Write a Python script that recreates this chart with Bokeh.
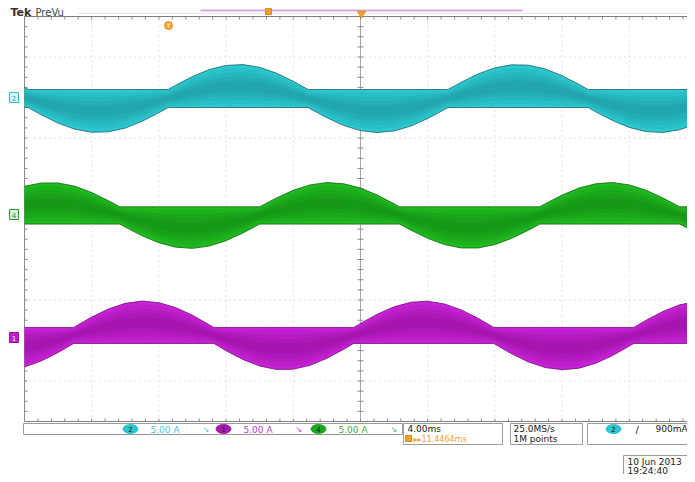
from bokeh.plotting import figure
from bokeh.models import Range1d
from bokeh.embed import file_html
from bokeh.resources import INLINE
from bokeh.core.properties import value

# ---------------- data ----------------
# time axis, ms (4.00 ms/div, 10 divisions, centre = 0)
time_ms = list(range(-20, 21))

# low-frequency (60 Hz) current envelope of each channel, A (5.00 A/div)
ch2_current_A = [0.20, -0.72, -1.54, -2.14, -2.44, -2.40, -2.03, -1.36, -0.51, 0.42,
                 1.28, 1.97, 2.38, 2.46, 2.19, 1.61, 0.81, -0.11, -1.01, -1.77,
                 -2.28, -2.47, -2.31, -1.83, -1.09, -0.20, 0.72, 1.54, 2.14, 2.44,
                 2.40, 2.03, 1.36, 0.51, -0.42, -1.28, -1.97, -2.38, -2.46, -2.19, -1.61]
ch4_current_A = [2.03, 2.36, 2.36, 2.03, 1.41, 0.60, -0.30, -1.16, -1.85, -2.28,
                 -2.40, -2.17, -1.64, -0.88, 0.00, 0.88, 1.64, 2.17, 2.40, 2.28,
                 1.85, 1.16, 0.30, -0.60, -1.41, -2.03, -2.36, -2.36, -2.03, -1.41,
                 -0.60, 0.30, 1.16, 1.85, 2.28, 2.40, 2.17, 1.64, 0.88, 0.00, -0.88]
ch1_current_A = [-2.32, -1.73, -0.90, 0.07, 1.02, 1.83, 2.38, 2.60, 2.45, 1.96,
                 1.20, 0.26, -0.71, -1.58, -2.23, -2.57, -2.54, -2.16, -1.47, -0.58,
                 0.39, 1.31, 2.04, 2.49, 2.59, 2.32, 1.73, 0.90, -0.07, -1.02,
                 -1.83, -2.38, -2.60, -2.45, -1.96, -1.20, -0.26, 0.71, 1.58, 2.23, 2.57]

# zero crossings of each channel's envelope, ms (sharp kinks in the bands)
ch2_zero_ms = [-19.78, -11.45, -3.12, 5.21, 13.55]
ch4_zero_ms = [-14.33, -6.0, 2.33, 10.67, 19.0]
ch1_zero_ms = [-17.07, -8.73, -0.4, 7.93, 16.27]

# switching ripple half-width of each band, A
ripple_A = [0.89, 0.85, 0.79]
# channel offsets on screen, A
offset_A = [11.9, 0.35, -11.5]
channel_names = ["2", "4", "1"]
amps_per_div = ["5.00 A", "5.00 A", "5.00 A"]

# graticule
div_ms = [-16, -12, -8, -4, 4, 8, 12, 16]
row_A = [16, 8, 0, -8, -16]

# ---------------- geometry helpers (pixel -> data) ----------------
X0, PXMS, Y0, PXA = 24.0, 16.8, 16.0, 10.125
W, H = 687, 474


def dx(X):
    return (X - X0) / PXMS - 20.0


def dy(Y):
    return 20.0 - (Y - Y0) / PXA


p = figure(width=W, height=H, output_backend="svg", toolbar_location=None,
           x_range=Range1d(dx(0), dx(W)), y_range=Range1d(dy(H), dy(0)),
           min_border=0, min_border_left=0, min_border_right=0,
           min_border_top=0, min_border_bottom=0)
p.axis.visible = False
p.grid.visible = False
p.outline_line_color = None
p.background_fill_color = "white"
p.border_fill_color = "white"

FONT = value("DejaVu Sans")

# dotted graticule
p.segment(x0=div_ms, y0=[-20] * len(div_ms), x1=div_ms, y1=[20] * len(div_ms),
          line_color="#bcbcbc", line_width=1, line_dash="1 4", line_alpha=0.8)
p.segment(x0=[-20] * len(row_A), y0=row_A, x1=[20] * len(row_A), y1=row_A,
          line_color="#bcbcbc", line_width=1, line_dash="1 4", line_alpha=0.8)
# centre vertical line
p.segment(x0=[0], y0=[-20], x1=[0], y1=[20], line_color="#a8a8a8", line_width=1)

# tick marks
tx = [-20 + 0.8 * i for i in range(51)]
ty = [-20 + 1.0 * i for i in range(41)]
tl_y = 3 / PXA
tl_x = 3 / PXMS
p.segment(x0=tx, y0=[20] * len(tx), x1=tx, y1=[20 - tl_y] * len(tx), line_color="#8a8a8a")
p.segment(x0=tx, y0=[-20] * len(tx), x1=tx, y1=[-20 + tl_y] * len(tx), line_color="#8a8a8a")
p.segment(x0=[-20] * len(ty), y0=ty, x1=[-20 + tl_x] * len(ty), y1=ty, line_color="#8a8a8a")
p.segment(x0=[-tl_x] * len(ty), y0=ty, x1=[tl_x] * len(ty), y1=ty, line_color="#8a8a8a")

# borders
p.line([-20, 20.5], [20, 20], line_color="#7d7d7d", line_width=1.2)
p.line([-20, 20.5], [-20, -20], line_color="#7d7d7d", line_width=1.2)
p.line([-20, -20], [-20, 20], line_color="#8a8a8a", line_width=1)

# ---------------- waveforms ----------------
styles = [
    ("#2cc9d1", "#0f6f78", "#1e6970"),   # ch2 cyan
    ("#20bb20", "#066806", "#156a15"),   # ch4 green
    ("#c823d6", "#6e0078", "#74127f"),   # ch1 purple
]
for cur, zeros, rip, off, (fill, dark, edge) in zip(
        [ch2_current_A, ch4_current_A, ch1_current_A],
        [ch2_zero_ms, ch4_zero_ms, ch1_zero_ms],
        ripple_A, offset_A, styles):
    pts = sorted(list(zip(time_ms, cur)) + [(z, 0.0) for z in zeros])
    t = [a for a, _ in pts]
    v = [b for _, b in pts]
    upper = [off + rip + max(0.0, b) for b in v]
    lower = [off - rip + min(0.0, b) for b in v]
    mid = [(u + l) / 2 for u, l in zip(upper, lower)]
    half = [(u - l) / 2 for u, l in zip(upper, lower)]
    p.varea(x=t, y1=lower, y2=upper, fill_color=fill)
    for frac in (0.85, 0.65, 0.45, 0.25):
        p.varea(x=t, y1=[m - h * frac for m, h in zip(mid, half)],
                y2=[m + h * frac for m, h in zip(mid, half)],
                fill_color=dark, fill_alpha=0.11)
    p.line(t, upper, line_color=edge, line_width=1, line_alpha=0.85)
    p.line(t, lower, line_color=edge, line_width=1, line_alpha=0.85)

# channel markers on the left
mk_fill = ["#d6f6f8", "#d4f2d4", "#c020c8"]
mk_line = ["#38bcc4", "#2c9c2c", "#a010a8"]
mk_text = ["#2aa8b0", "#2a902a", "white"]
mk_Y = [97, 214, 337]
for nm, f, l, tc, Y in zip(channel_names, mk_fill, mk_line, mk_text, mk_Y):
    p.quad(left=[dx(9)], right=[dx(18)], bottom=[dy(Y + 5)], top=[dy(Y - 5)],
           fill_color=f, line_color=l, line_width=1)
    p.text(x=[dx(13.5)], y=[dy(Y)], text=[nm], text_font=FONT, text_font_size="7px",
           text_color=tc, text_align="center", text_baseline="middle")

# ---------------- header ----------------
p.text(x=[dx(10)], y=[dy(12)], text=["Tek"], text_font=FONT, text_font_size="11px",
       text_font_style="bold", text_color="#303030", text_baseline="middle")
p.text(x=[dx(35)], y=[dy(12)], text=["PreVu"], text_font=FONT, text_font_size="10px",
       text_color="#3c4660", text_baseline="middle")
p.line([dx(78), dx(W)], [dy(13), dy(13)], line_color="#e4e4e4", line_width=1)
p.line([dx(200), dx(522)], [dy(10), dy(10)], line_color="#d7a8d7", line_width=2)
p.scatter(x=[dx(268)], y=[dy(11)], marker="square", size=6, fill_color="#f0a030",
          line_color="#e08a10")
p.scatter(x=[dx(361)], y=[dy(13)], marker="inverted_triangle", size=8, fill_color="#f0a030",
          line_color="#e08a10")
p.scatter(x=[dx(168)], y=[dy(25)], marker="circle", size=8, fill_color="#f3a535",
          line_color="#e89020")
p.text(x=[dx(168)], y=[dy(25)], text=["T"], text_font=FONT, text_font_size="6px",
       text_color="white", text_align="center", text_baseline="middle")

# ---------------- status bar ----------------
box_l = [23, 403, 510, 587, 623]
box_r = [402, 502, 582, 700, 700]
box_t = [423, 423, 423, 423, 455]
box_b = [434, 444, 444, 444, 480]
p.quad(left=[dx(v) for v in box_l], right=[dx(v) for v in box_r],
       top=[dy(v) for v in box_t], bottom=[dy(v) for v in box_b],
       fill_color="white", line_color="#9a9a9a", line_width=1)

ch_col = ["#2ec4cc", "#a51aae", "#1ea51e"]
ch_txt = ["#45c8d0", "#b040c0", "#40b040"]
order = ["2", "1", "4"]
badge_X = [130, 223, 318]
for nm, c, tc, X, vd in zip(order, ch_col, ch_txt, badge_X, amps_per_div):
    p.ellipse(x=[dx(X)], y=[dy(428.5)], width=15 / PXMS, height=9 / PXA,
              fill_color=c, line_color=c)
    p.text(x=[dx(X)], y=[dy(428.5)], text=[nm], text_font=FONT, text_font_size="7px",
           text_color="#202020", text_align="center", text_baseline="middle")
    p.text(x=[dx(X + 20)], y=[dy(429)], text=[vd], text_font=FONT, text_font_size="9px",
           text_color=tc, text_baseline="middle")
    p.text(x=[dx(X + 72)], y=[dy(429)], text=["\u2198"], text_font=FONT, text_font_size="8px",
           text_color=tc, text_baseline="middle")

p.text(x=[dx(407)], y=[dy(428)], text=["4.00ms"], text_font=FONT, text_font_size="9px",
       text_color="#202020", text_baseline="middle")
p.quad(left=[dx(405)], right=[dx(411)], top=[dy(435)], bottom=[dy(441)],
       fill_color="#f0a030", line_color="#e08a10")
p.text(x=[dx(413)], y=[dy(438.5)], text=["\u25b8\u25b811.4464ms"], text_font=FONT,
       text_font_size="8px", text_color="#f0a030", text_baseline="middle")

p.text(x=[dx(513)], y=[dy(428)], text=["25.0MS/s"], text_font=FONT, text_font_size="9px",
       text_color="#202020", text_baseline="middle")
p.text(x=[dx(513)], y=[dy(438.5)], text=["1M points"], text_font=FONT, text_font_size="9px",
       text_color="#202020", text_baseline="middle")

p.ellipse(x=[dx(613)], y=[dy(428.5)], width=15 / PXMS, height=9 / PXA,
          fill_color="#2ec4cc", line_color="#2ec4cc")
p.text(x=[dx(613)], y=[dy(428.5)], text=["2"], text_font=FONT, text_font_size="7px",
       text_color="#202020", text_align="center", text_baseline="middle")
p.text(x=[dx(635)], y=[dy(428.5)], text=["\u2215"], text_font=FONT, text_font_size="10px",
       text_color="#202020", text_baseline="middle")
p.text(x=[dx(655)], y=[dy(428.5)], text=["900mA"], text_font=FONT, text_font_size="9px",
       text_color="#202020", text_baseline="middle")

p.text(x=[dx(627)], y=[dy(461)], text=["10 Jun  2013"], text_font=FONT, text_font_size="9px",
       text_color="#202020", text_baseline="middle")
p.text(x=[dx(627)], y=[dy(470)], text=["19:24:40"], text_font=FONT, text_font_size="9px",
       text_color="#202020", text_baseline="middle")

open("out.html", "w").write(file_html(p, INLINE))
